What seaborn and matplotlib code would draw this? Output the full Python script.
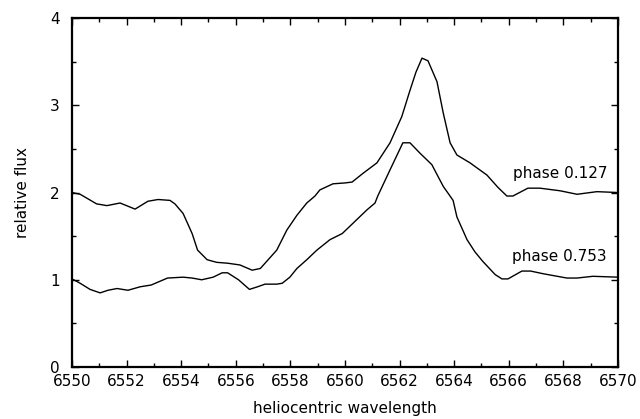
import pandas as pd
import matplotlib.pyplot as plt
import seaborn as sns
from matplotlib.ticker import MultipleLocator

# phase 0.127 (upper spectrum)
wave_127 = [6550.0, 6550.3, 6550.9, 6551.28, 6551.76, 6552.31, 6552.78, 6553.15, 6553.59,
            6553.77, 6554.07, 6554.4, 6554.6, 6554.95, 6555.3, 6555.7, 6556.15, 6556.6,
            6556.9, 6557.1, 6557.5, 6557.87, 6558.24, 6558.6, 6558.9, 6559.08, 6559.56,
            6560.0, 6560.26, 6560.66, 6561.17, 6561.65, 6562.08, 6562.38, 6562.6, 6562.82,
            6563.04, 6563.37, 6563.6, 6563.85, 6564.1, 6564.58, 6565.2, 6565.6, 6565.93,
            6566.15, 6566.7, 6567.14, 6567.88, 6568.5, 6569.23, 6570.0]
flux_127 = [2.00, 1.98, 1.87, 1.85, 1.88, 1.81, 1.90, 1.92, 1.91,
            1.87, 1.76, 1.53, 1.34, 1.23, 1.20, 1.19, 1.17, 1.11,
            1.13, 1.20, 1.34, 1.57, 1.74, 1.88, 1.96, 2.03, 2.10,
            2.11, 2.12, 2.22, 2.34, 2.57, 2.87, 3.17, 3.38, 3.54,
            3.51, 3.27, 2.91, 2.57, 2.43, 2.34, 2.20, 2.06, 1.96,
            1.96, 2.05, 2.05, 2.02, 1.98, 2.01, 2.00]

# phase 0.753 (lower spectrum)
wave_753 = [6550.0, 6550.3, 6550.66, 6551.03, 6551.32, 6551.65, 6552.05, 6552.5, 6552.9,
            6553.5, 6554.07, 6554.4, 6554.75, 6555.17, 6555.5, 6555.7, 6556.1, 6556.5,
            6556.8, 6557.07, 6557.5, 6557.7, 6557.98, 6558.24, 6558.6, 6558.97, 6559.45,
            6559.9, 6560.3, 6560.8, 6561.1, 6561.2, 6561.65, 6562.12, 6562.38, 6562.75,
            6563.18, 6563.6, 6563.96, 6564.1, 6564.47, 6564.76, 6565.05, 6565.5, 6565.75,
            6565.97, 6566.48, 6566.8, 6567.25, 6567.6, 6568.13, 6568.5, 6569.08, 6570.0]
flux_753 = [1.01, 0.96, 0.89, 0.85, 0.88, 0.90, 0.88, 0.92, 0.94,
            1.02, 1.03, 1.02, 1.00, 1.03, 1.08, 1.08, 1.00, 0.89,
            0.92, 0.95, 0.95, 0.96, 1.03, 1.13, 1.23, 1.34, 1.46,
            1.53, 1.65, 1.80, 1.88, 1.96, 2.26, 2.57, 2.57, 2.45,
            2.32, 2.07, 1.91, 1.72, 1.46, 1.32, 1.21, 1.06, 1.01,
            1.01, 1.10, 1.10, 1.07, 1.05, 1.02, 1.02, 1.04, 1.03]

labels = ["phase 0.127", "phase 0.753"]
label_pos = [(6569.6, 2.22), (6569.6, 1.27)]

df = pd.concat([
    pd.DataFrame({"wave": wave_127, "flux": flux_127, "phase": labels[0]}),
    pd.DataFrame({"wave": wave_753, "flux": flux_753, "phase": labels[1]}),
])

sns.set_style("ticks")
plt.rcParams['font.family'] = ['DejaVu Sans']
plt.rcParams['text.color'] = 'black'
plt.rcParams['axes.labelcolor'] = 'black'
plt.rcParams['xtick.color'] = 'black'
plt.rcParams['ytick.color'] = 'black'

fig = plt.figure(figsize=(6.4, 4.19), dpi=100)
ax = fig.add_axes([0.1125, 0.124, 0.8531, 0.833])
sns.lineplot(data=df, x="wave", y="flux", units="phase", estimator=None,
             color="black", linewidth=1.0, sort=False, ax=ax)

for txt, (x, y) in zip(labels, label_pos):
    ax.text(x, y, txt, ha="right", va="center", fontsize=11)

ax.set_xlim(6550, 6570)
ax.set_ylim(0, 4)
ax.xaxis.set_major_locator(MultipleLocator(2))
ax.xaxis.set_minor_locator(MultipleLocator(1))
ax.yaxis.set_major_locator(MultipleLocator(1))
ax.yaxis.set_minor_locator(MultipleLocator(0.5))
ax.tick_params(which="both", direction="in", top=True, right=True, labelsize=11, width=1.0)
ax.tick_params(axis="x", which="major", length=5, pad=5)
ax.tick_params(axis="y", which="major", length=5, pad=9)
ax.tick_params(which="minor", length=3)
for s in ax.spines.values():
    s.set_linewidth(1.6)
    s.set_color("black")

ax.set_xlabel("heliocentric wavelength", fontsize=11, labelpad=9)
ax.set_ylabel("relative flux", fontsize=11, labelpad=14)

fig.savefig("out.png", dpi=100)
